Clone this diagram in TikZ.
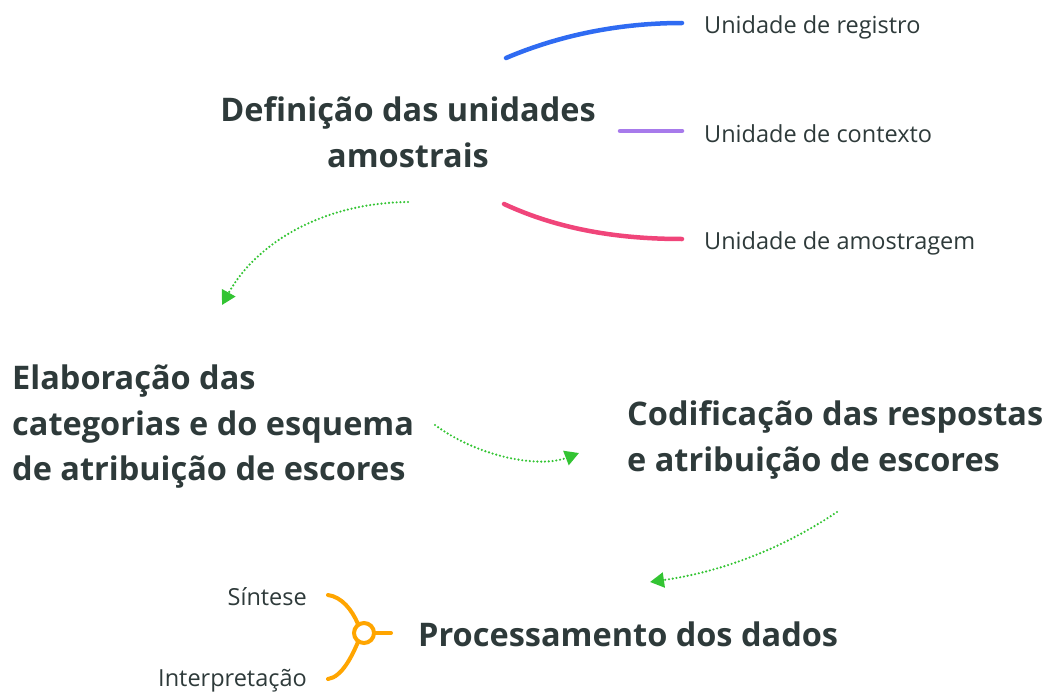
\documentclass[tikz,border=0pt]{standalone}
\usepackage{fontspec}
\setmainfont{Open Sans}
\usetikzlibrary{arrows.meta}
\definecolor{txt}{HTML}{2E3A3A}
\definecolor{gr}{HTML}{33C433}
\definecolor{bl}{HTML}{2F6BF2}
\definecolor{pu}{HTML}{A77AEB}
\definecolor{pk}{HTML}{F0457A}
\definecolor{og}{HTML}{FFA500}
\tikzset{
  big/.style={font=\fontsize{32.5}{45.5}\selectfont\bfseries, text=txt, inner sep=0pt, align=left},
  small/.style={font=\fontsize{23.5}{28}\selectfont, text=txt, inner sep=0pt},
  flow/.style={gr, line width=2.4pt, dash pattern=on 0pt off 3.8pt, line cap=round, -{Triangle[length=14pt,width=15pt,line cap=butt]}},
  branch/.style={line width=4.5pt, line cap=round},
}
\begin{document}
\begin{tikzpicture}[x=1pt,y=-1pt]
\useasboundingbox (0,0) rectangle (1051,693);
% main nodes
\node[big, align=center] (def) at (408,132) {Definição das unidades\\amostrais};
\node[big, anchor=west] (ela) at (12,427) {Elaboração das\\categorias e do esquema\\de atribuição de escores};
\node[big, anchor=west] (cod) at (627,440) {Codificação das respostas\\e atribuição de escores};
\node[big, anchor=west] (pro) at (418,634) {Processamento dos dados};
% leaves
\node[small, anchor=west] (u1) at (704,27) {Unidade de registro};
\node[small, anchor=west] (u2) at (704,134) {Unidade de contexto};
\node[small, anchor=west] (u3) at (704,243) {Unidade de amostragem};
\node[small, anchor=east] (s1) at (307,597) {Síntese};
\node[small, anchor=east] (s2) at (307,681) {Interpretação};
% coordinates
\coordinate (b1a) at (506,58);
\coordinate (b1b) at (682,23);
\coordinate (b2a) at (620,131);
\coordinate (b2b) at (682,131);
\coordinate (b3a) at (504,204);
\coordinate (b3b) at (682,239);
\draw[branch, bl] (b1a) .. controls (560,35) and (620,23) .. (b1b);
\draw[branch, pu] (b2a) -- (b2b);
\draw[branch, pk] (b3a) .. controls (560,230) and (620,239) .. (b3b);
% orange
\coordinate (oc) at (364,633);
\coordinate (o1) at (328,595);
\coordinate (o2) at (328,679);
\coordinate (o3) at (391,633);
\draw[og, line width=4pt] (oc) circle (10);
\draw[og, line width=4pt, line cap=round] (374,633) -- (o3);
\draw[og, line width=4pt, line cap=round] (o1) .. controls (342,597) and (352,610) .. (358,624);
\draw[og, line width=4pt, line cap=round] (o2) .. controls (342,677) and (352,656) .. (358,642);
% flows
\coordinate (f1a) at (408,202);
\coordinate (f1b) at (222,305);
\coordinate (f2a) at (435,425);
\coordinate (f2b) at (579,453);
\coordinate (f3a) at (837,512);
\coordinate (f3b) at (650,582);
\draw[flow] (f1a) .. controls (320,203) and (255,245) .. (f1b);
\draw[flow] (f2a) .. controls (480,458) and (540,468) .. (f2b);
\draw[flow] (f3a) .. controls (780,550) and (720,572) .. (f3b);
\end{tikzpicture}
\end{document}
